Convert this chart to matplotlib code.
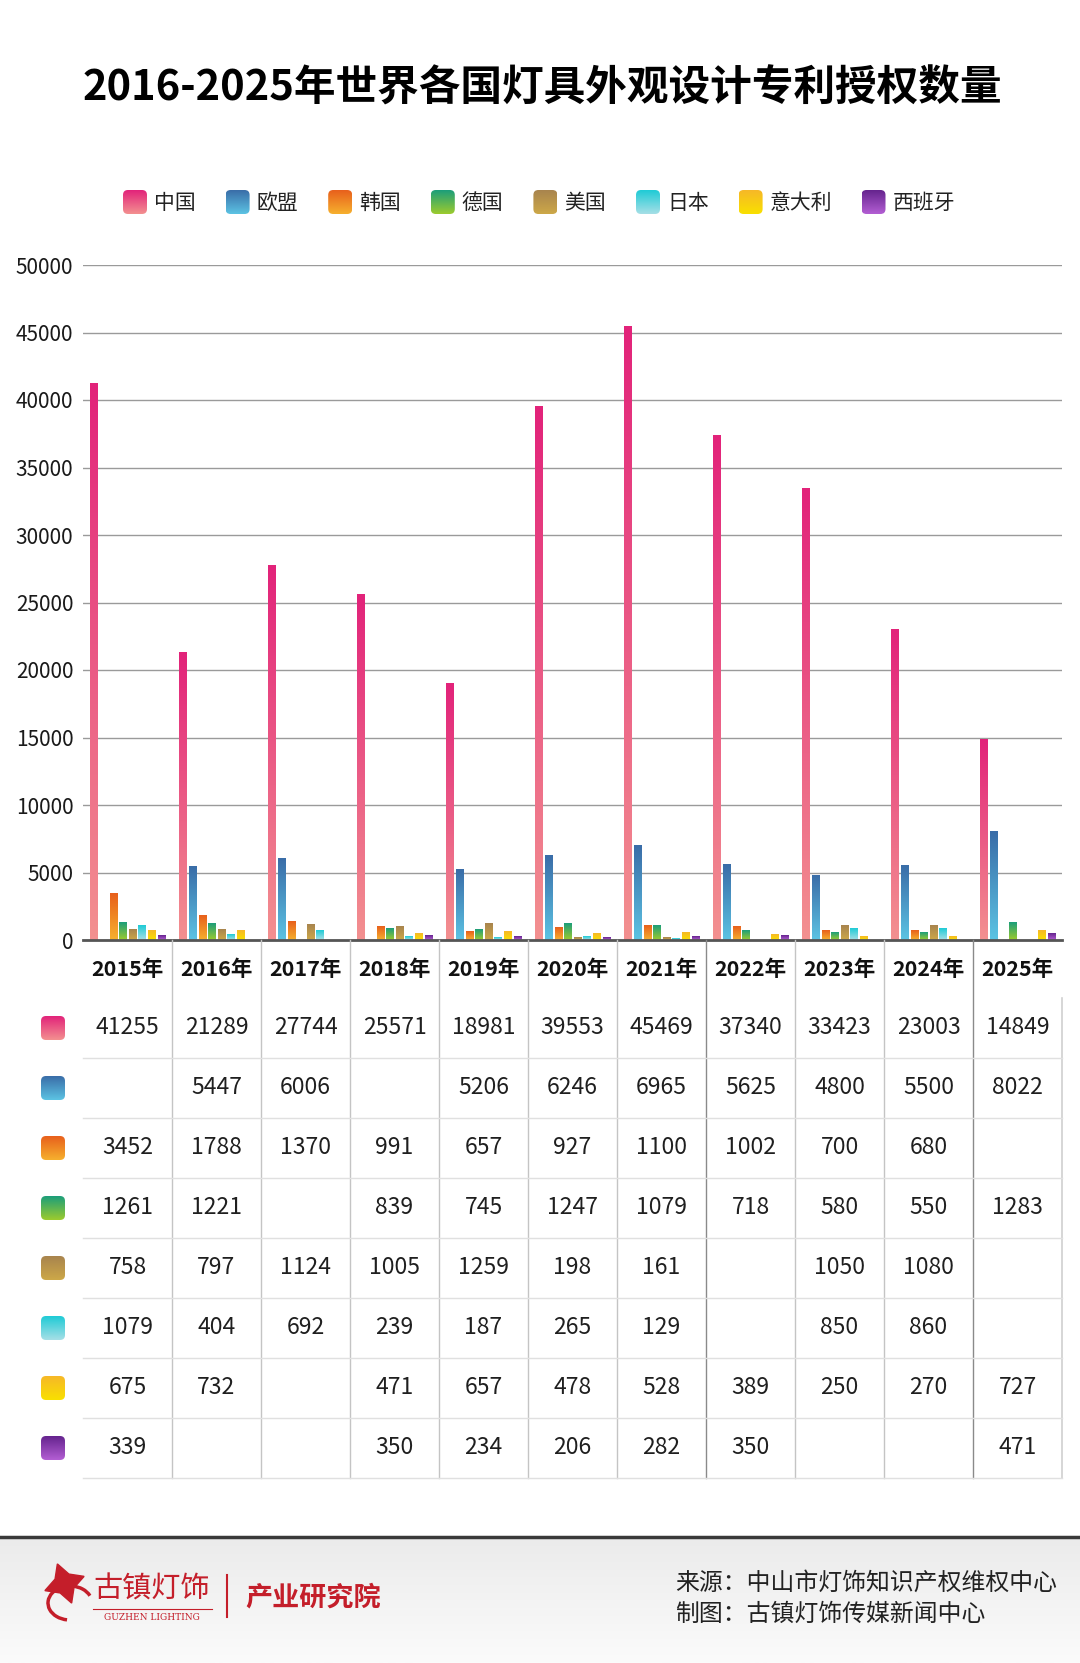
import numpy as np
import matplotlib
matplotlib.use('Agg')
import matplotlib.pyplot as plt
from matplotlib.colors import to_rgb
from matplotlib.patches import FancyBboxPatch, Arc

plt.rcParams['font.family'] = ['Noto Sans CJK SC', 'DejaVu Sans']

# ---- data ----
years = ['2015年', '2016年', '2017年', '2018年', '2019年', '2020年',
         '2021年', '2022年', '2023年', '2024年', '2025年']
countries = ['中国', '欧盟', '韩国', '德国', '美国', '日本', '意大利', '西班牙']

china = [41255, 21289, 27744, 25571, 18981, 39553, 45469, 37340, 33423, 23003, 14849]
eu = [None, 5447, 6006, None, 5206, 6246, 6965, 5625, 4800, 5500, 8022]
korea = [3452, 1788, 1370, 991, 657, 927, 1100, 1002, 700, 680, None]
germany = [1261, 1221, None, 839, 745, 1247, 1079, 718, 580, 550, 1283]
usa = [758, 797, 1124, 1005, 1259, 198, 161, None, 1050, 1080, None]
japan = [1079, 404, 692, 239, 187, 265, 129, None, 850, 860, None]
italy = [675, 732, None, 471, 657, 478, 528, 389, 250, 270, 727]
spain = [339, None, None, 350, 234, 206, 282, 350, None, None, 471]

series = [china, eu, korea, germany, usa, japan, italy, spain]

# gradient colours (top, bottom) for each country
grad_colors = [('#E2237A', '#F39090'), ('#3A6DA8', '#5CC3E3'),
               ('#E8601C', '#F6B02E'), ('#1C9E7A', '#9CCB2E'),
               ('#A8844E', '#CDA848'), ('#1FCBD6', '#A6DFE6'),
               ('#F6B828', '#F9E000'), ('#65248E', '#B35ED3')]

W, H = 1080, 1663


def rect(l, t, r, b):
    return [l / W, 1 - b / H, (r - l) / W, (b - t) / H]


def grad(top, bottom, n=64):
    t = np.linspace(0, 1, n)[:, None]
    c = (1 - t) * np.array(to_rgb(top)) + t * np.array(to_rgb(bottom))
    return c[:, None, :]


fig = plt.figure(figsize=(W / 100, H / 100), dpi=100)

# ---- bar chart ----
ax = fig.add_axes(rect(83, 265, 1062, 940))
x = np.arange(len(years))
slot, bw = 0.108, 0.079
for k, (vals, (ctop, cbot)) in enumerate(zip(series, grad_colors)):
    h = np.array([np.nan if v is None else v for v in vals], dtype=float)
    bars = ax.bar(x + (k - 3.5) * slot, h, bw, color='none', edgecolor='none')
    for r in bars:
        if np.isnan(r.get_height()):
            continue
        x0, w, hh = r.get_x(), r.get_width(), r.get_height()
        ax.imshow(grad(ctop, cbot), extent=[x0, x0 + w, 0, hh], aspect='auto',
                  interpolation='bilinear', zorder=2)

ax.set_xlim(-0.5, len(years) - 0.5)
ax.set_ylim(0, 50000)
ax.set_yticks(range(0, 50001, 5000))
ax.set_xticks([])
ax.yaxis.grid(True, color='#9a9a9a', lw=1)
ax.set_axisbelow(True)
for s in ['top', 'right', 'left']:
    ax.spines[s].set_visible(False)
ax.spines['bottom'].set_color('#555555')
ax.spines['bottom'].set_linewidth(2)
ax.spines['bottom'].set_zorder(3)
ax.tick_params(axis='y', length=0, pad=7, labelsize=15, labelcolor='#1a1a1a')

# ---- table under the chart (x in categories, y in pixels) ----
tab_top, head_h, row_h = 940, 58, 60
tab_bot = tab_top + head_h + row_h * len(countries)
tab = fig.add_axes(rect(83, tab_top, 1062, tab_bot))
tab.set_xlim(-0.5, len(years) - 0.5)
tab.set_ylim(tab_bot, tab_top)
tab.axis('off')

for i, y in enumerate(years):
    tab.text(i, tab_top + head_h / 2 + 1, y, ha='center', va='center',
             fontsize=15.5, fontweight='bold', color='#111111')

row_centers = [tab_top + head_h + row_h * (r + 0.5) for r in range(len(countries))]
for r, vals in enumerate(series):
    for i, v in enumerate(vals):
        if v is not None:
            tab.text(i, row_centers[r], str(v), ha='center', va='center',
                     fontsize=16.5, color='#1f1f1f')

for i in range(len(years) - 1):
    c = '#8a8a8a' if i in (6, 9) else '#c4c4c4'
    tab.plot([i + 0.5, i + 0.5], [tab_top, tab_bot], color=c, lw=1, clip_on=False)
tab.plot([len(years) - 0.5] * 2, [tab_top + head_h, tab_bot], color='#d0d0d0', lw=1.2, clip_on=False)
for r in range(len(countries)):
    yy = tab_top + head_h + row_h * (r + 1)
    tab.plot([-0.5, len(years) - 0.5], [yy, yy], color='#e0e0e0', lw=1, clip_on=False)

# ---- overlay in pixel coords: title, legend, icons, footer ----
ov = fig.add_axes([0, 0, 1, 1])
ov.patch.set_visible(False)
ov.axis('off')


def icon(xl, yt, size, ctop, cbot):
    box = FancyBboxPatch((xl, yt), size, size, boxstyle='round,pad=0,rounding_size=5',
                         fc='none', ec='none')
    ov.add_patch(box)
    im = ov.imshow(grad(ctop, cbot), extent=[xl, xl + size, yt + size, yt],
                   aspect='auto', interpolation='bilinear', zorder=3)
    im.set_clip_path(box)


ov.text(542, 89, '2016-2025年世界各国灯具外观设计专利授权数量', ha='center', va='center',
        fontsize=30, fontweight='heavy', color='#000000')

# legend
lx, ly, isz, ch = 123, 202, 24, 20.3
for name, (ctop, cbot) in zip(countries, grad_colors):
    icon(lx, ly - isz / 2, isz, ctop, cbot)
    ov.text(lx + isz + 7, ly + 1, name, ha='left', va='center', fontsize=15, color='#222222')
    lx += isz + 8 + ch * len(name) + 30

# table row icons
for yc, (ctop, cbot) in zip(row_centers, grad_colors):
    icon(41, yc - 12, 24, ctop, cbot)

# footer
ov.imshow(grad('#ebebeb', '#fbfbfb'), extent=[0, W, H, 1538], aspect='auto', zorder=0)
ov.plot([0, W], [1537, 1537], color='#3a3a3a', lw=2.5)
ov.text(675, 1583, '来源：中山市灯饰知识产权维权中心', ha='left', va='center',
        fontsize=17.2, color='#222222')
ov.text(675, 1614, '制图：古镇灯饰传媒新闻中心', ha='left', va='center',
        fontsize=17.2, color='#222222')

red = '#C41E2A'
ov.plot([64], [1583], marker=(4, 1, 20), markersize=30, color=red)
ov.add_patch(Arc((70, 1603), 44, 34, theta1=100, theta2=340, color=red, lw=2.5))
ov.text(152, 1590, '古镇灯饰', ha='center', va='center', fontsize=21, color=red)
ov.plot([93, 212], [1609, 1609], color=red, lw=0.8)
ov.text(152, 1617, 'GUZHEN LIGHTING', ha='center', va='center', fontsize=6.5,
        family='DejaVu Serif', color=red)
ov.plot([227, 227], [1575, 1617], color=red, lw=1.5)
ov.text(245, 1597, '产业研究院', ha='left', va='center', fontsize=19.5,
        fontweight='bold', color=red)

ov.set_xlim(0, W)
ov.set_ylim(H, 0)

fig.savefig('out.png', dpi=100)
